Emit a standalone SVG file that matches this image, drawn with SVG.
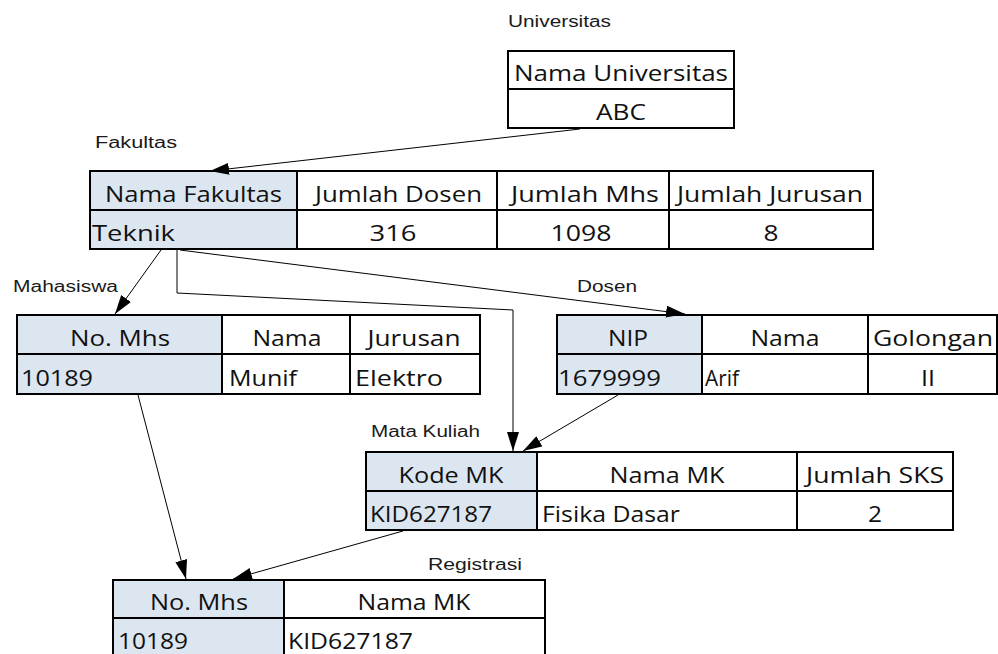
<svg xmlns="http://www.w3.org/2000/svg" width="998" height="654" viewBox="0 0 998 654">
<style>
.c{fill:#fff;stroke:#000;stroke-width:2}
.k{fill:#dce6f1;stroke:#000;stroke-width:2}
.t{font-family:"Open Sans","Noto Sans","Liberation Sans",sans-serif;font-size:21px;font-weight:400;fill:#111}
.m{text-anchor:middle}
.l{font-family:"Liberation Sans",Arial,sans-serif;font-size:16px;fill:#1a1a1a}
.e{fill:none;stroke:#000;stroke-width:1}
</style>
<defs>
<marker id="ah" markerUnits="userSpaceOnUse" markerWidth="19" markerHeight="12" refX="19" refY="6" orient="auto">
<path d="M0,0 L19,6 L0,12 z" fill="#000"/>
</marker>
</defs>
<rect width="998" height="654" fill="#fff"/>

<g id="universitas">
<text class="l" x="508" y="27" textLength="103" lengthAdjust="spacingAndGlyphs">Universitas</text>
<rect class="c" x="508" y="51" width="226" height="38"/>
<rect class="c" x="508" y="89" width="226" height="39"/>
<text class="t m" x="621" y="81" textLength="214" lengthAdjust="spacingAndGlyphs">Nama Universitas</text>
<text class="t m" x="621" y="120" textLength="50" lengthAdjust="spacingAndGlyphs">ABC</text>
</g>

<g id="fakultas">
<text class="l" x="95" y="148" textLength="82" lengthAdjust="spacingAndGlyphs">Fakultas</text>
<rect class="k" x="90" y="171" width="207" height="39"/>
<rect class="c" x="297" y="171" width="200" height="39"/>
<rect class="c" x="497" y="171" width="172" height="39"/>
<rect class="c" x="669" y="171" width="204" height="39"/>
<rect class="k" x="90" y="210" width="207" height="39"/>
<rect class="c" x="297" y="210" width="200" height="39"/>
<rect class="c" x="497" y="210" width="172" height="39"/>
<rect class="c" x="669" y="210" width="204" height="39"/>
<text class="t" x="105" y="202" textLength="177" lengthAdjust="spacingAndGlyphs">Nama Fakultas</text>
<text class="t" x="315" y="202" textLength="167" lengthAdjust="spacingAndGlyphs">Jumlah Dosen</text>
<text class="t m" x="585" y="202" textLength="148" lengthAdjust="spacingAndGlyphs">Jumlah Mhs</text>
<text class="t m" x="770" y="202" textLength="186" lengthAdjust="spacingAndGlyphs">Jumlah Jurusan</text>
<text class="t" x="92" y="241" textLength="83" lengthAdjust="spacingAndGlyphs">Teknik</text>
<text class="t m" x="393" y="241" textLength="47" lengthAdjust="spacingAndGlyphs">316</text>
<text class="t m" x="581" y="241" textLength="61" lengthAdjust="spacingAndGlyphs">1098</text>
<text class="t m" x="771" y="241" textLength="15" lengthAdjust="spacingAndGlyphs">8</text>
</g>

<g id="mahasiswa">
<text class="l" x="13" y="292" textLength="105" lengthAdjust="spacingAndGlyphs">Mahasiswa</text>
<rect class="k" x="17" y="315" width="205" height="39"/>
<rect class="c" x="222" y="315" width="128" height="39"/>
<rect class="c" x="350" y="315" width="130" height="39"/>
<rect class="k" x="17" y="354" width="205" height="40"/>
<rect class="c" x="222" y="354" width="128" height="40"/>
<rect class="c" x="350" y="354" width="130" height="40"/>
<text class="t m" x="120" y="346" textLength="100" lengthAdjust="spacingAndGlyphs">No. Mhs</text>
<text class="t m" x="287" y="346" textLength="69" lengthAdjust="spacingAndGlyphs">Nama</text>
<text class="t m" x="414" y="346" textLength="93" lengthAdjust="spacingAndGlyphs">Jurusan</text>
<text class="t" x="21" y="386" textLength="72" lengthAdjust="spacingAndGlyphs">10189</text>
<text class="t" x="229" y="386" textLength="68" lengthAdjust="spacingAndGlyphs">Munif</text>
<text class="t" x="355" y="386" textLength="88" lengthAdjust="spacingAndGlyphs">Elektro</text>
</g>

<g id="dosen">
<text class="l" x="577" y="292" textLength="60" lengthAdjust="spacingAndGlyphs">Dosen</text>
<rect class="k" x="557" y="315" width="145" height="39"/>
<rect class="c" x="702" y="315" width="166" height="39"/>
<rect class="c" x="868" y="315" width="129" height="39"/>
<rect class="k" x="557" y="354" width="145" height="40"/>
<rect class="c" x="702" y="354" width="166" height="40"/>
<rect class="c" x="868" y="354" width="129" height="40"/>
<text class="t m" x="628" y="346" textLength="40" lengthAdjust="spacingAndGlyphs">NIP</text>
<text class="t m" x="785" y="346" textLength="69" lengthAdjust="spacingAndGlyphs">Nama</text>
<text class="t m" x="933" y="346" textLength="120" lengthAdjust="spacingAndGlyphs">Golongan</text>
<text class="t" x="558" y="386" textLength="103" lengthAdjust="spacingAndGlyphs">1679999</text>
<text class="t" x="705" y="386" textLength="34" lengthAdjust="spacingAndGlyphs">Arif</text>
<text class="t m" x="928" y="386" textLength="14" lengthAdjust="spacingAndGlyphs">II</text>
</g>

<g id="mata-kuliah">
<text class="l" x="371" y="437" textLength="109" lengthAdjust="spacingAndGlyphs">Mata Kuliah</text>
<rect class="k" x="366" y="452" width="171" height="39"/>
<rect class="c" x="537" y="452" width="260" height="39"/>
<rect class="c" x="797" y="452" width="156" height="39"/>
<rect class="k" x="366" y="491" width="171" height="39"/>
<rect class="c" x="537" y="491" width="260" height="39"/>
<rect class="c" x="797" y="491" width="156" height="39"/>
<text class="t m" x="451" y="483" textLength="105" lengthAdjust="spacingAndGlyphs">Kode MK</text>
<text class="t m" x="667" y="483" textLength="115" lengthAdjust="spacingAndGlyphs">Nama MK</text>
<text class="t m" x="875" y="483" textLength="138" lengthAdjust="spacingAndGlyphs">Jumlah SKS</text>
<text class="t" x="370" y="522" textLength="122" lengthAdjust="spacingAndGlyphs">KID627187</text>
<text class="t" x="542" y="522" textLength="138" lengthAdjust="spacingAndGlyphs">Fisika Dasar</text>
<text class="t m" x="875" y="522" textLength="14" lengthAdjust="spacingAndGlyphs">2</text>
</g>

<g id="registrasi">
<text class="l" x="428" y="570" textLength="94" lengthAdjust="spacingAndGlyphs">Registrasi</text>
<rect class="k" x="113" y="580" width="171" height="38"/>
<rect class="c" x="284" y="580" width="261" height="38"/>
<rect class="k" x="113" y="618" width="171" height="40"/>
<rect class="c" x="284" y="618" width="261" height="40"/>
<text class="t m" x="199" y="610" textLength="98" lengthAdjust="spacingAndGlyphs">No. Mhs</text>
<text class="t m" x="414" y="610" textLength="113" lengthAdjust="spacingAndGlyphs">Nama MK</text>
<text class="t" x="118" y="649" textLength="70" lengthAdjust="spacingAndGlyphs">10189</text>
<text class="t" x="288" y="649" textLength="125" lengthAdjust="spacingAndGlyphs">KID627187</text>
</g>

<g id="connectors">
<line class="e" x1="580" y1="129" x2="210" y2="171" marker-end="url(#ah)"/>
<line class="e" x1="161" y1="250" x2="115" y2="314" marker-end="url(#ah)"/>
<polyline class="e" points="177,250 177,293 513,310 513,451" marker-end="url(#ah)"/>
<line class="e" x1="180" y1="250" x2="685" y2="314" marker-end="url(#ah)"/>
<line class="e" x1="618" y1="395" x2="523" y2="451" marker-end="url(#ah)"/>
<line class="e" x1="138" y1="395" x2="186" y2="579" marker-end="url(#ah)"/>
<line class="e" x1="403" y1="531" x2="233" y2="579" marker-end="url(#ah)"/>
</g>
</svg>
